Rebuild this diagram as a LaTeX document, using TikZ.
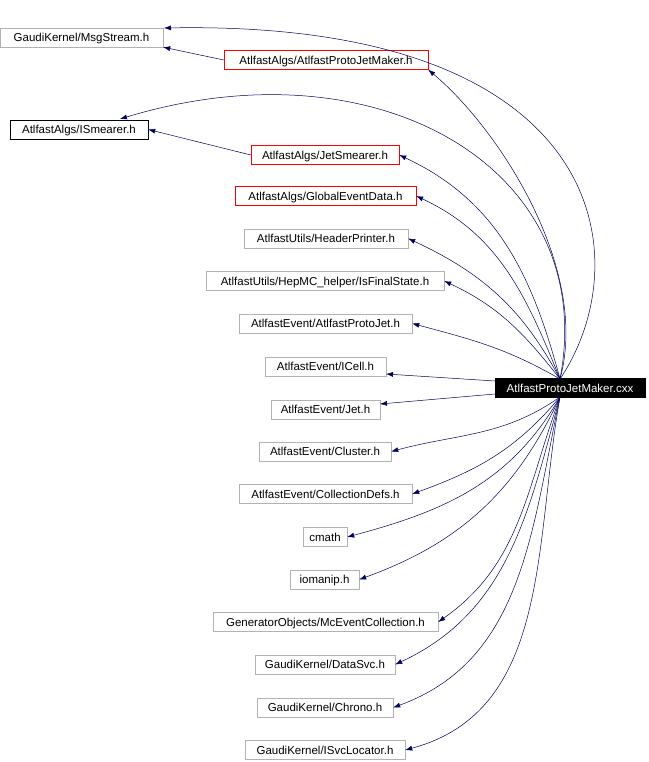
\documentclass[tikz,border=0pt]{standalone}
\usepackage{fontspec}
\setmainfont{Liberation Sans}
\begin{document}
\begin{tikzpicture}[x=1pt,y=-1pt,
  box/.style={draw=#1,fill=white,minimum height=19pt,inner sep=0pt,text depth=0pt,font=\fontsize{11.5}{13}\selectfont},
  box/.default=gray!60,
  edge/.style={draw=blue!30!black!90!blue,-{Latex[length=7pt,width=5pt]},line width=0.5pt}]
\usetikzlibrary{arrows.meta}
\path[use as bounding box] (0,0) rectangle (648,762);
\node[box,minimum width=163pt] (msg) at (81.5,37.5) {GaudiKernel/MsgStream.h};
\node[box=red,minimum width=204pt] (pjmh) at (326,60) {AtlfastAlgs/AtlfastProtoJetMaker.h};
\node[box=black,minimum width=138pt] (ism) at (79,129.5) {AtlfastAlgs/ISmearer.h};
\node[box=red,minimum width=148pt] (jsm) at (325,155) {AtlfastAlgs/JetSmearer.h};
\node[box=red,minimum width=181pt] (ged) at (325.5,196) {AtlfastAlgs/GlobalEventData.h};
\node[box,minimum width=164pt] (hp) at (326,238.5) {AtlfastUtils/HeaderPrinter.h};
\node[box,minimum width=238pt] (hep) at (325,281) {AtlfastUtils/HepMC\_helper/IsFinalState.h};
\node[box,minimum width=173pt] (apj) at (325.5,323.5) {AtlfastEvent/AtlfastProtoJet.h};
\node[box,minimum width=121pt] (icell) at (325.5,366.5) {AtlfastEvent/ICell.h};
\node[box,minimum width=109pt] (jet) at (325.5,409.5) {AtlfastEvent/Jet.h};
\node[box,minimum width=132pt] (clu) at (325,451.5) {AtlfastEvent/Cluster.h};
\node[box,minimum width=173pt] (cd) at (325.5,494) {AtlfastEvent/CollectionDefs.h};
\node[box,minimum width=44pt] (cm) at (325,537) {cmath};
\node[box,minimum width=69pt] (io) at (324.5,579.5) {iomanip.h};
\node[box,minimum width=225pt] (mc) at (325.5,622) {GeneratorObjects/McEventCollection.h};
\node[box,minimum width=140pt] (ds) at (325,664.5) {GaudiKernel/DataSvc.h};
\node[box,minimum width=136pt] (ch) at (325,707.5) {GaudiKernel/Chrono.h};
\node[box,minimum width=160pt] (sl) at (325,750) {GaudiKernel/ISvcLocator.h};
\node[box=black,fill=black,text=white,minimum width=150pt] (main) at (570,388) {AtlfastProtoJetMaker.cxx};
\coordinate (msgE) at (164,28);
\coordinate (ismN) at (120,119);
\coordinate (ms) at (560,379);
\coordinate (mb) at (560,397);
\coordinate (mw1) at (495,381);
\coordinate (mw2) at (495,394);
\coordinate (ice) at (386,374);
\coordinate (jte) at (380,404);
\draw[edge] (ms) .. controls (640,260) and (610,20) .. (msgE);
\draw[edge] (ms) .. controls (590,270) and (500,130) .. (pjmh.south east);
\draw[edge] (ms) .. controls (600,170) and (380,40) .. (ismN);
\draw[edge] (pjmh.west) -- (msg.south east);
\draw[edge] (jsm.west) -- (ism.east);
\draw[edge] (ms) to[out=105,in=-25] (jsm.east);
\draw[edge] (ms) to[out=112,in=-25] (ged.east);
\draw[edge] (ms) to[out=118,in=-25] (hp.east);
\draw[edge] (ms) to[out=128,in=-25] (hep.east);
\draw[edge] (ms) to[out=150,in=-15] (apj.east);
\draw[edge] (mw1) -- (ice);
\draw[edge] (mw2) -- (jte);
\draw[edge] (mb) to[out=215,in=15] (clu.east);
\draw[edge] (mb) to[out=230,in=20] (cd.east);
\draw[edge] (mb) to[out=240,in=15] (cm.east);
\draw[edge] (mb) to[out=245,in=20] (io.east);
\draw[edge] (mb) to[out=250,in=35] (mc.east);
\draw[edge] (mb) to[out=255,in=25] (ds.east);
\draw[edge] (mb) to[out=258,in=20] (ch.east);
\draw[edge] (mb) to[out=260,in=15] (sl.east);
\end{tikzpicture}
\end{document}
